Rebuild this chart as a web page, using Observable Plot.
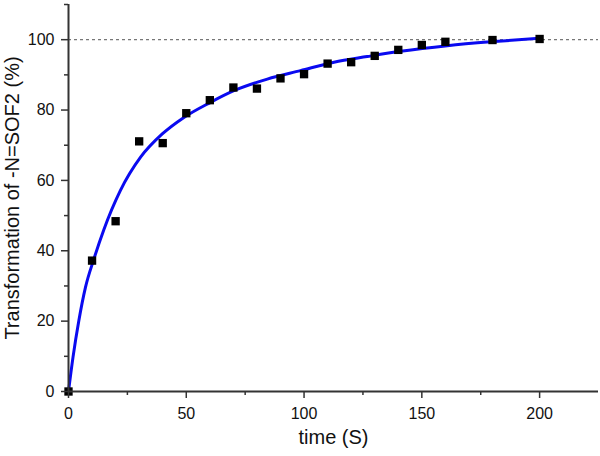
<!DOCTYPE html>
<html>
<head>
<meta charset="utf-8">
<script src="https://cdn.jsdelivr.net/npm/d3@7"></script>
<script src="https://cdn.jsdelivr.net/npm/@observablehq/plot@0.6"></script>
<style>
  html, body { margin: 0; padding: 0; background: #fff; }
  #chart { width: 600px; height: 456px; }
</style>
</head>
<body>
<div id="chart"></div>
<script>
// Measured points
const timeS = [0, 10, 20, 30, 40, 50, 60, 70, 80, 90, 100, 110, 120, 130, 140, 150, 160, 180, 200];
const transformation = [0, 37.2, 48.4, 71.1, 70.6, 79.1, 82.8, 86.4, 86.1, 89.0, 90.2, 93.2, 93.6, 95.4, 97.1, 98.5, 99.4, 99.9, 100.2];

// Fitted curve
const fitTime = [0, 1.9, 4.4, 7.2, 10.8, 15, 22, 30.6, 39.8, 49, 60.3, 70.2, 84.4, 98.5, 112.7, 126.8, 141, 160.8, 179.2, 200];
const fitValue = [0, 9.7, 20.2, 29.6, 37.7, 46.0, 57.1, 66.6, 73.2, 77.9, 82.2, 85.5, 88.8, 91.2, 93.6, 95.2, 96.7, 98.3, 99.4, 100.4];

const xMajor = [0, 50, 100, 150, 200];
const xMinor = [25, 75, 125, 175];
const yMajor = [0, 20, 40, 60, 80, 100];
const yMinor = [10, 30, 50, 70, 90, 110];
const refLine = [100];

const points = timeS.map((t, i) => ({t, v: transformation[i]}));
const fit = fitTime.map((t, i) => ({t, v: fitValue[i]}));

const axisColor = "#333";
const font = "'Liberation Sans', Arial, sans-serif";

const chart = Plot.plot({
  width: 600,
  height: 456,
  marginLeft: 68,
  marginRight: 2,
  marginTop: 4,
  marginBottom: 65,
  style: {fontFamily: font, fontSize: "16px", color: "#111", background: "#fff"},
  x: {domain: [0, 225], axis: null},
  y: {domain: [0, 110], axis: null},
  marks: [
    Plot.ruleY(refLine, {stroke: "#777", strokeWidth: 1.2, strokeDasharray: "3,3"}),
    Plot.line(fit, {x: "t", y: "v", stroke: "#0a0af0", strokeWidth: 3, curve: "monotone-x"}),
    Plot.dot(points, {x: "t", y: "v", symbol: "square", r: 4.7, fill: "#000", stroke: "none"}),
    Plot.axisX({ticks: xMajor, tickSize: 7, tickPadding: 9, stroke: axisColor, strokeWidth: 1.5, fontSize: 16, tickFormat: d => d, label: null}),
    Plot.axisX({ticks: xMinor, tickSize: 4, stroke: axisColor, strokeWidth: 1.5, tickFormat: () => "", label: null}),
    Plot.axisY({ticks: yMajor, tickSize: 7, tickPadding: 7, stroke: axisColor, strokeWidth: 1.5, fontSize: 16, tickFormat: d => d, label: null}),
    Plot.axisY({ticks: yMinor, tickSize: 4, stroke: axisColor, strokeWidth: 1.5, tickFormat: () => "", label: null}),
    Plot.ruleY([0], {stroke: axisColor, strokeWidth: 2}),
    Plot.ruleX([0], {stroke: axisColor, strokeWidth: 2}),
    Plot.text(["time (S)"], {frameAnchor: "bottom", dy: 52, fontSize: 20, fill: "#111", textAnchor: "middle"}),
    Plot.text(["Transformation of -N=SOF2 (%)"], {frameAnchor: "left", dx: -56, rotate: -90, fontSize: 20, fill: "#111", textAnchor: "middle"})
  ]
});
document.getElementById("chart").appendChild(chart);
</script>
</body>
</html>
